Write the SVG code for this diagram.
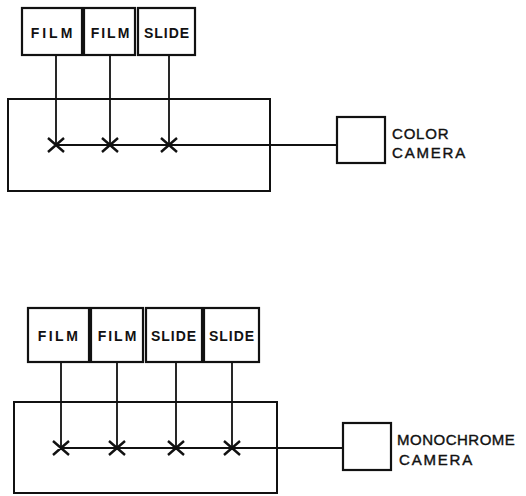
<svg xmlns="http://www.w3.org/2000/svg" width="526" height="496" viewBox="0 0 526 496">
<style>
.box{fill:#fff;stroke:#111;stroke-width:2.2}
.frame{fill:none;stroke:#111;stroke-width:2}
.ln{stroke:#111;stroke-width:1.8;fill:none}
.x{stroke:#111;stroke-width:2.4;fill:none}
.lbl{font-family:"Liberation Sans",Arial,sans-serif;font-weight:bold;font-size:14px;fill:#111;text-anchor:middle}
.cam{font-family:"Liberation Sans",Arial,sans-serif;font-size:15px;fill:#111;stroke:#111;stroke-width:0.4}
</style>
<rect width="526" height="496" fill="#fff"/>
<g id="frame1"><rect class="frame" x="8" y="99" width="262" height="92"/></g>
<g id="frame2"><rect class="frame" x="14" y="402" width="263" height="91"/></g>
<g id="connectors">
<path class="ln" d="M56 55V145M110 55V145M169 55V145M56 145H337"/>
<path class="ln" d="M61 362V448M117 362V448M176 362V448M232 362V448M61 448H343"/>
<path class="x" d="M48 138L64 152M64 138L48 152M102 138L118 152M118 138L102 152M161 138L177 152M177 138L161 152"/>
<path class="x" d="M53 441L69 455M69 441L53 455M109 441L125 455M125 441L109 455M168 441L184 455M184 441L168 455M224 441L240 455M240 441L224 455"/>
</g>
<g id="film1"><rect class="box" x="22" y="8" width="60" height="47"/><text class="lbl" x="53" y="38" style="letter-spacing:3px">FILM</text></g>
<g id="film2"><rect class="box" x="84" y="8" width="51" height="47"/><text class="lbl" x="111" y="38" style="letter-spacing:2px">FILM</text></g>
<g id="slide1"><rect class="box" x="138" y="8" width="57" height="47"/><text class="lbl" x="167" y="38" style="letter-spacing:1px">SLIDE</text></g>
<g id="colorcam"><rect class="box" x="337" y="117" width="48" height="46"/><text class="cam" x="392" y="139" style="letter-spacing:0.8px">COLOR</text><text class="cam" x="392" y="158" style="letter-spacing:1.8px">CAMERA</text></g>
<g id="film3"><rect class="box" x="28" y="308" width="61" height="54"/><text class="lbl" x="59" y="341" style="letter-spacing:2.5px">FILM</text></g>
<g id="film4"><rect class="box" x="91" y="308" width="52" height="54"/><text class="lbl" x="118" y="341" style="letter-spacing:2px">FILM</text></g>
<g id="slide2"><rect class="box" x="146" y="308" width="56" height="54"/><text class="lbl" x="174" y="341" style="letter-spacing:1px">SLIDE</text></g>
<g id="slide3"><rect class="box" x="204" y="308" width="55" height="54"/><text class="lbl" x="232" y="341" style="letter-spacing:1px">SLIDE</text></g>
<g id="monocam"><rect class="box" x="343" y="423" width="48" height="47"/><text class="cam" x="397" y="445" style="letter-spacing:0.5px">MONOCHROME</text><text class="cam" x="399" y="465" style="letter-spacing:1.8px">CAMERA</text></g>
</svg>
